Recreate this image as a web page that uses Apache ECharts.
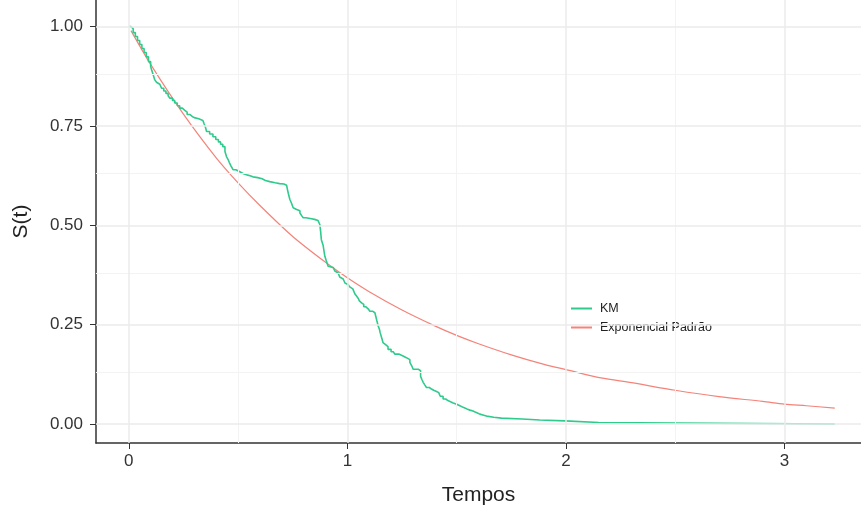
<!DOCTYPE html>
<html>
<head>
<meta charset="utf-8">
<script src="https://cdn.jsdelivr.net/npm/echarts@6/dist/echarts.min.js"></script>
<style>html,body{margin:0;padding:0;background:#fff}#c{width:861px;height:511px}</style>
</head>
<body>
<div id="c"></div>
<script>
// Kaplan-Meier estimate (time, survival)
var kmTime = [0,0.01,0.02,0.03,0.04,0.05,0.06,0.07,0.08,0.09,0.1,0.105,0.112,0.119,0.127,0.135,0.142,0.15,0.16,0.17,0.18,0.188,0.2,0.21,0.222,0.233,0.245,0.255,0.267,0.279,0.29,0.3,0.32,0.339,0.345,0.35,0.356,0.37,0.385,0.398,0.41,0.42,0.43,0.44,0.447,0.455,0.46,0.468,0.477,0.49,0.508,0.525,0.54,0.555,0.568,0.59,0.61,0.625,0.645,0.67,0.69,0.71,0.722,0.726,0.73,0.737,0.745,0.752,0.76,0.768,0.783,0.79,0.798,0.81,0.83,0.85,0.866,0.874,0.878,0.881,0.885,0.889,0.893,0.897,0.904,0.912,0.92,0.935,0.943,0.95,0.958,0.965,0.973,0.981,0.989,0.995,1.003,1.011,1.019,1.025,1.034,1.042,1.05,1.055,1.06,1.065,1.075,1.085,1.095,1.103,1.115,1.126,1.135,1.141,1.147,1.15,1.157,1.163,1.17,1.175,1.186,1.2,1.21,1.217,1.235,1.255,1.27,1.286,1.295,1.301,1.324,1.335,1.341,1.347,1.355,1.362,1.375,1.385,1.395,1.408,1.418,1.425,1.438,1.45,1.46,1.472,1.484,1.5,1.515,1.53,1.54,1.55,1.561,1.575,1.585,1.595,1.606,1.62,1.637,1.67,1.705,1.8,1.88,1.995,2.15,3.23];
var kmSurv = [1.0,0.995,0.985,0.975,0.965,0.955,0.945,0.935,0.924,0.912,0.9,0.89,0.878,0.866,0.86,0.855,0.85,0.845,0.838,0.832,0.826,0.82,0.814,0.808,0.801,0.795,0.79,0.785,0.779,0.774,0.771,0.768,0.764,0.761,0.755,0.748,0.736,0.73,0.723,0.716,0.71,0.704,0.698,0.686,0.673,0.665,0.658,0.649,0.64,0.635,0.63,0.627,0.625,0.622,0.62,0.617,0.613,0.61,0.607,0.605,0.604,0.601,0.598,0.59,0.58,0.565,0.555,0.544,0.54,0.537,0.531,0.525,0.519,0.517,0.515,0.512,0.51,0.502,0.483,0.464,0.457,0.45,0.436,0.422,0.41,0.397,0.394,0.39,0.385,0.38,0.375,0.37,0.365,0.36,0.355,0.351,0.348,0.345,0.34,0.335,0.328,0.322,0.316,0.31,0.305,0.301,0.295,0.29,0.287,0.284,0.28,0.276,0.26,0.247,0.238,0.23,0.217,0.205,0.2,0.195,0.188,0.182,0.179,0.176,0.171,0.167,0.162,0.155,0.146,0.138,0.134,0.12,0.112,0.105,0.098,0.092,0.088,0.085,0.082,0.079,0.074,0.07,0.063,0.059,0.056,0.053,0.05,0.046,0.042,0.04,0.037,0.035,0.033,0.03,0.028,0.025,0.023,0.02,0.017,0.015,0.0125,0.01,0.008,0.004,0.0,0.0];
// Standard exponential fit (time, survival)
var expTime = [0.01,0.1,0.25,0.4,0.5,0.6,0.75,0.9,1.0,1.1,1.25,1.4,1.5,1.6,1.75,1.9,2.0,2.16,2.3,2.5,2.7,2.9,3.0,3.1,3.23];
var expSurv = [0.99,0.905,0.78,0.67,0.607,0.55,0.472,0.407,0.368,0.333,0.287,0.247,0.223,0.202,0.174,0.15,0.137,0.116,0.104,0.085,0.069,0.057,0.05,0.046,0.04];
var xTicks = [0,1,2,3];
var xMinor = [0.5,1.5,2.5];
var yTicks = [0,0.25,0.5,0.75,1];
var yMinor = [0.125,0.375,0.625,0.875];
var seriesNames = ['KM','Exponencial Padrão'];

var km = kmTime.map(function(t,i){return [t,kmSurv[i]];});
var ex = expTime.map(function(t,i){return [t,expSurv[i]];});

var gridLines = [];
xMinor.forEach(function(v){gridLines.push({xAxis:v,lineStyle:{color:'#f3f3f3',width:1,type:'solid'}});});
yMinor.forEach(function(v){gridLines.push({yAxis:v,lineStyle:{color:'#f3f3f3',width:1,type:'solid'}});});
xTicks.forEach(function(v){gridLines.push({xAxis:v,lineStyle:{color:'#ebebeb',width:1.5,type:'solid'}});});
yTicks.forEach(function(v){gridLines.push({yAxis:v,lineStyle:{color:'#ebebeb',width:1.5,type:'solid'}});});

var chart = echarts.init(document.getElementById('c'), null, {renderer:'canvas'});
var txt = '#333';
var ff = 'Liberation Sans';
chart.setOption({
  animation:false,
  backgroundColor:'#fff',
  grid:{left:96,right:0,top:0,bottom:67},
  xAxis:{type:'value',min:-0.15,max:3.35,
    name:'Tempos',nameLocation:'middle',nameGap:42,
    nameTextStyle:{fontFamily:ff,fontSize:21,color:'#222'},
    axisLine:{show:true,onZero:false,lineStyle:{color:'#333',width:1.5}},
    axisTick:{show:true,length:6,customValues:xTicks,lineStyle:{color:'#333'}},
    axisLabel:{customValues:xTicks,fontFamily:ff,fontSize:17,color:txt,margin:10,
      formatter:function(v){return String(Math.round(v));}},
    splitLine:{show:false}},
  yAxis:{type:'value',min:-0.0477,max:1.067,
    name:'S(t)',nameLocation:'middle',nameGap:64,nameRotate:90,
    nameTextStyle:{fontFamily:ff,fontSize:21,color:'#222'},
    axisLine:{show:true,onZero:false,lineStyle:{color:'#333',width:1.5}},
    axisTick:{show:true,length:6,customValues:yTicks,lineStyle:{color:'#333'}},
    axisLabel:{customValues:yTicks,fontFamily:ff,fontSize:17,color:txt,margin:13,
      formatter:function(v){return v.toFixed(2);}},
    splitLine:{show:false}},
  legend:{orient:'vertical',left:566,top:297,itemWidth:21,itemHeight:2,itemGap:6,
    icon:'rect',data:seriesNames,
    textStyle:{fontFamily:ff,fontSize:12.5,color:'#222',padding:[0,0,0,3]}},
  series:[
    {type:'line',name:'_grid',data:[],silent:true,z:0,
      markLine:{silent:true,symbol:'none',label:{show:false},animation:false,data:gridLines}},
    {type:'line',name:seriesNames[0],data:km,step:'end',showSymbol:false,symbol:'none',
      lineStyle:{color:'#2fcb8d',width:1.6},itemStyle:{color:'#2fcb8d'},z:3},
    {type:'line',name:seriesNames[1],data:ex,showSymbol:false,symbol:'none',smooth:0.3,
      lineStyle:{color:'#f4837a',width:1.2},itemStyle:{color:'#f4837a'},z:2}
  ]
});
</script>
</body>
</html>
